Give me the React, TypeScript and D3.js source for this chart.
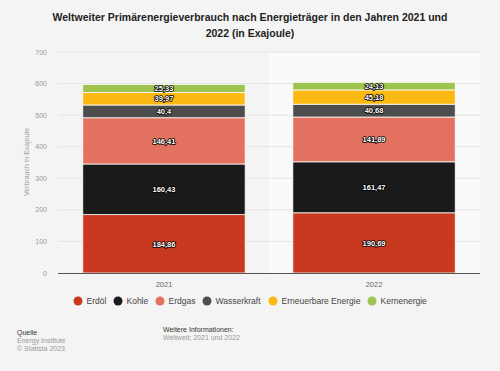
import React from "react";
import * as d3 from "d3";

const years = ["2021", "2022"];
const series = ["Erdöl", "Kohle", "Erdgas", "Wasserkraft", "Erneuerbare Energie", "Kernenergie"];
const erdoel = [184.86, 190.69];
const kohle = [160.43, 161.47];
const erdgas = [146.41, 141.89];
const wasserkraft = [40.4, 40.68];
const erneuerbare = [39.97, 45.18];
const kernenergie = [25.33, 24.13];
const yTicks = [0, 100, 200, 300, 400, 500, 600, 700];
const colors = ["#c8391f", "#1a1a1a", "#e2725f", "#4d4d4d", "#fdb913", "#9dc44d"];
const legendX = [78, 118, 160, 207, 273, 372];

const W = 500, H = 371;
const plot = { left: 58, right: 480, top: 52, bottom: 273 };
const font = "'Liberation Sans', Arial, Helvetica, sans-serif";

function fmt(v: number) {
  return String(v).replace(".", ",");
}

export default function App() {
  const values = [erdoel, kohle, erdgas, wasserkraft, erneuerbare, kernenergie];
  const rows = years.map((y, i) => {
    const r: any = { year: y };
    series.forEach((s, k) => (r[s] = values[k][i]));
    return r;
  });
  const stack = d3.stack<any>().keys(series)(rows);
  const x = d3.scaleBand().domain(years).range([plot.left, plot.right]).paddingInner(0.227).paddingOuter(0.118);
  const y = d3.scaleLinear().domain([0, 700]).range([plot.bottom, plot.top]);
  const step = x.step();
  const hlX = (x("2022") as number) - (step * 0.227) / 2;

  return (
    <svg width={W} height={H} style={{ position: "absolute", left: 0, top: 0, fontFamily: font }}>
      <rect width={W} height={H} fill="#f4f4f4" />
      <rect x={hlX} y={plot.top} width={plot.right - hlX} height={plot.bottom - plot.top} fill="#fafafa" />
      <text x={250} y={21} textAnchor="middle" fontSize={10.5} fontWeight="bold" fill="#222">
        Weltweiter Primärenergieverbrauch nach Energieträger in den Jahren 2021 und
      </text>
      <text x={250} y={37} textAnchor="middle" fontSize={10.5} fontWeight="bold" fill="#222">
        2022 (in Exajoule)
      </text>
      {yTicks.map((t) => (
        <g key={t}>
          {t > 0 && <line x1={plot.left} x2={plot.right} y1={y(t)} y2={y(t)} stroke="#e4e4e4" strokeWidth={1} />}
          <text x={47} y={y(t) + 2.5} textAnchor="end" fontSize={7} fill="#999">
            {t}
          </text>
        </g>
      ))}
      <text transform={`translate(29,162) rotate(-90)`} textAnchor="middle" fontSize={7} fill="#999">
        Verbrauch in Exajoule
      </text>
      {stack.map((layer, k) => (
        <g key={series[k]}>
          {layer.map((d, i) => (
            <rect
              key={i}
              x={x(years[i])}
              y={y(d[1])}
              width={x.bandwidth()}
              height={y(d[0]) - y(d[1])}
              fill={colors[k]}
              stroke="#fff"
              strokeWidth={0.8}
            />
          ))}
        </g>
      ))}
      {stack.map((layer, k) => (
        <g key={"l" + series[k]}>
          {layer.map((d, i) => (
            <text
              key={i}
              x={(x(years[i]) as number) + x.bandwidth() / 2}
              y={(y(d[0]) + y(d[1])) / 2 + 2.7}
              textAnchor="middle"
              fontSize={7.5}
              fontWeight="bold"
              fill="#fff"
              stroke="#000"
              strokeWidth={1.6}
              strokeLinejoin="round"
              style={{ paintOrder: "stroke" }}
            >
              {fmt(values[k][i])}
            </text>
          ))}
        </g>
      ))}
      <line x1={plot.left} x2={plot.right} y1={plot.bottom + 0.5} y2={plot.bottom + 0.5} stroke="#555" strokeWidth={1} />
      {years.map((yr) => (
        <text key={yr} x={(x(yr) as number) + x.bandwidth() / 2} y={287} textAnchor="middle" fontSize={7.5} fill="#666">
          {yr}
        </text>
      ))}
      {series.map((s, k) => (
        <g key={"lg" + s}>
          <circle cx={legendX[k]} cy={301} r={4.5} fill={colors[k]} />
          <text x={legendX[k] + 8.5} y={304} fontSize={8.5} fill="#444">
            {s}
          </text>
        </g>
      ))}
      <text x={17} y={335} fontSize={7} fill="#333">Quelle</text>
      <text x={17} y={343} fontSize={7} fill="#999">Energy Institute</text>
      <text x={17} y={351} fontSize={7} fill="#999">© Statista 2023</text>
      <text x={163} y={332} fontSize={7} fill="#333">Weitere Informationen:</text>
      <text x={163} y={340} fontSize={7} fill="#999">Weltweit; 2021 und 2022</text>
    </svg>
  );
}
